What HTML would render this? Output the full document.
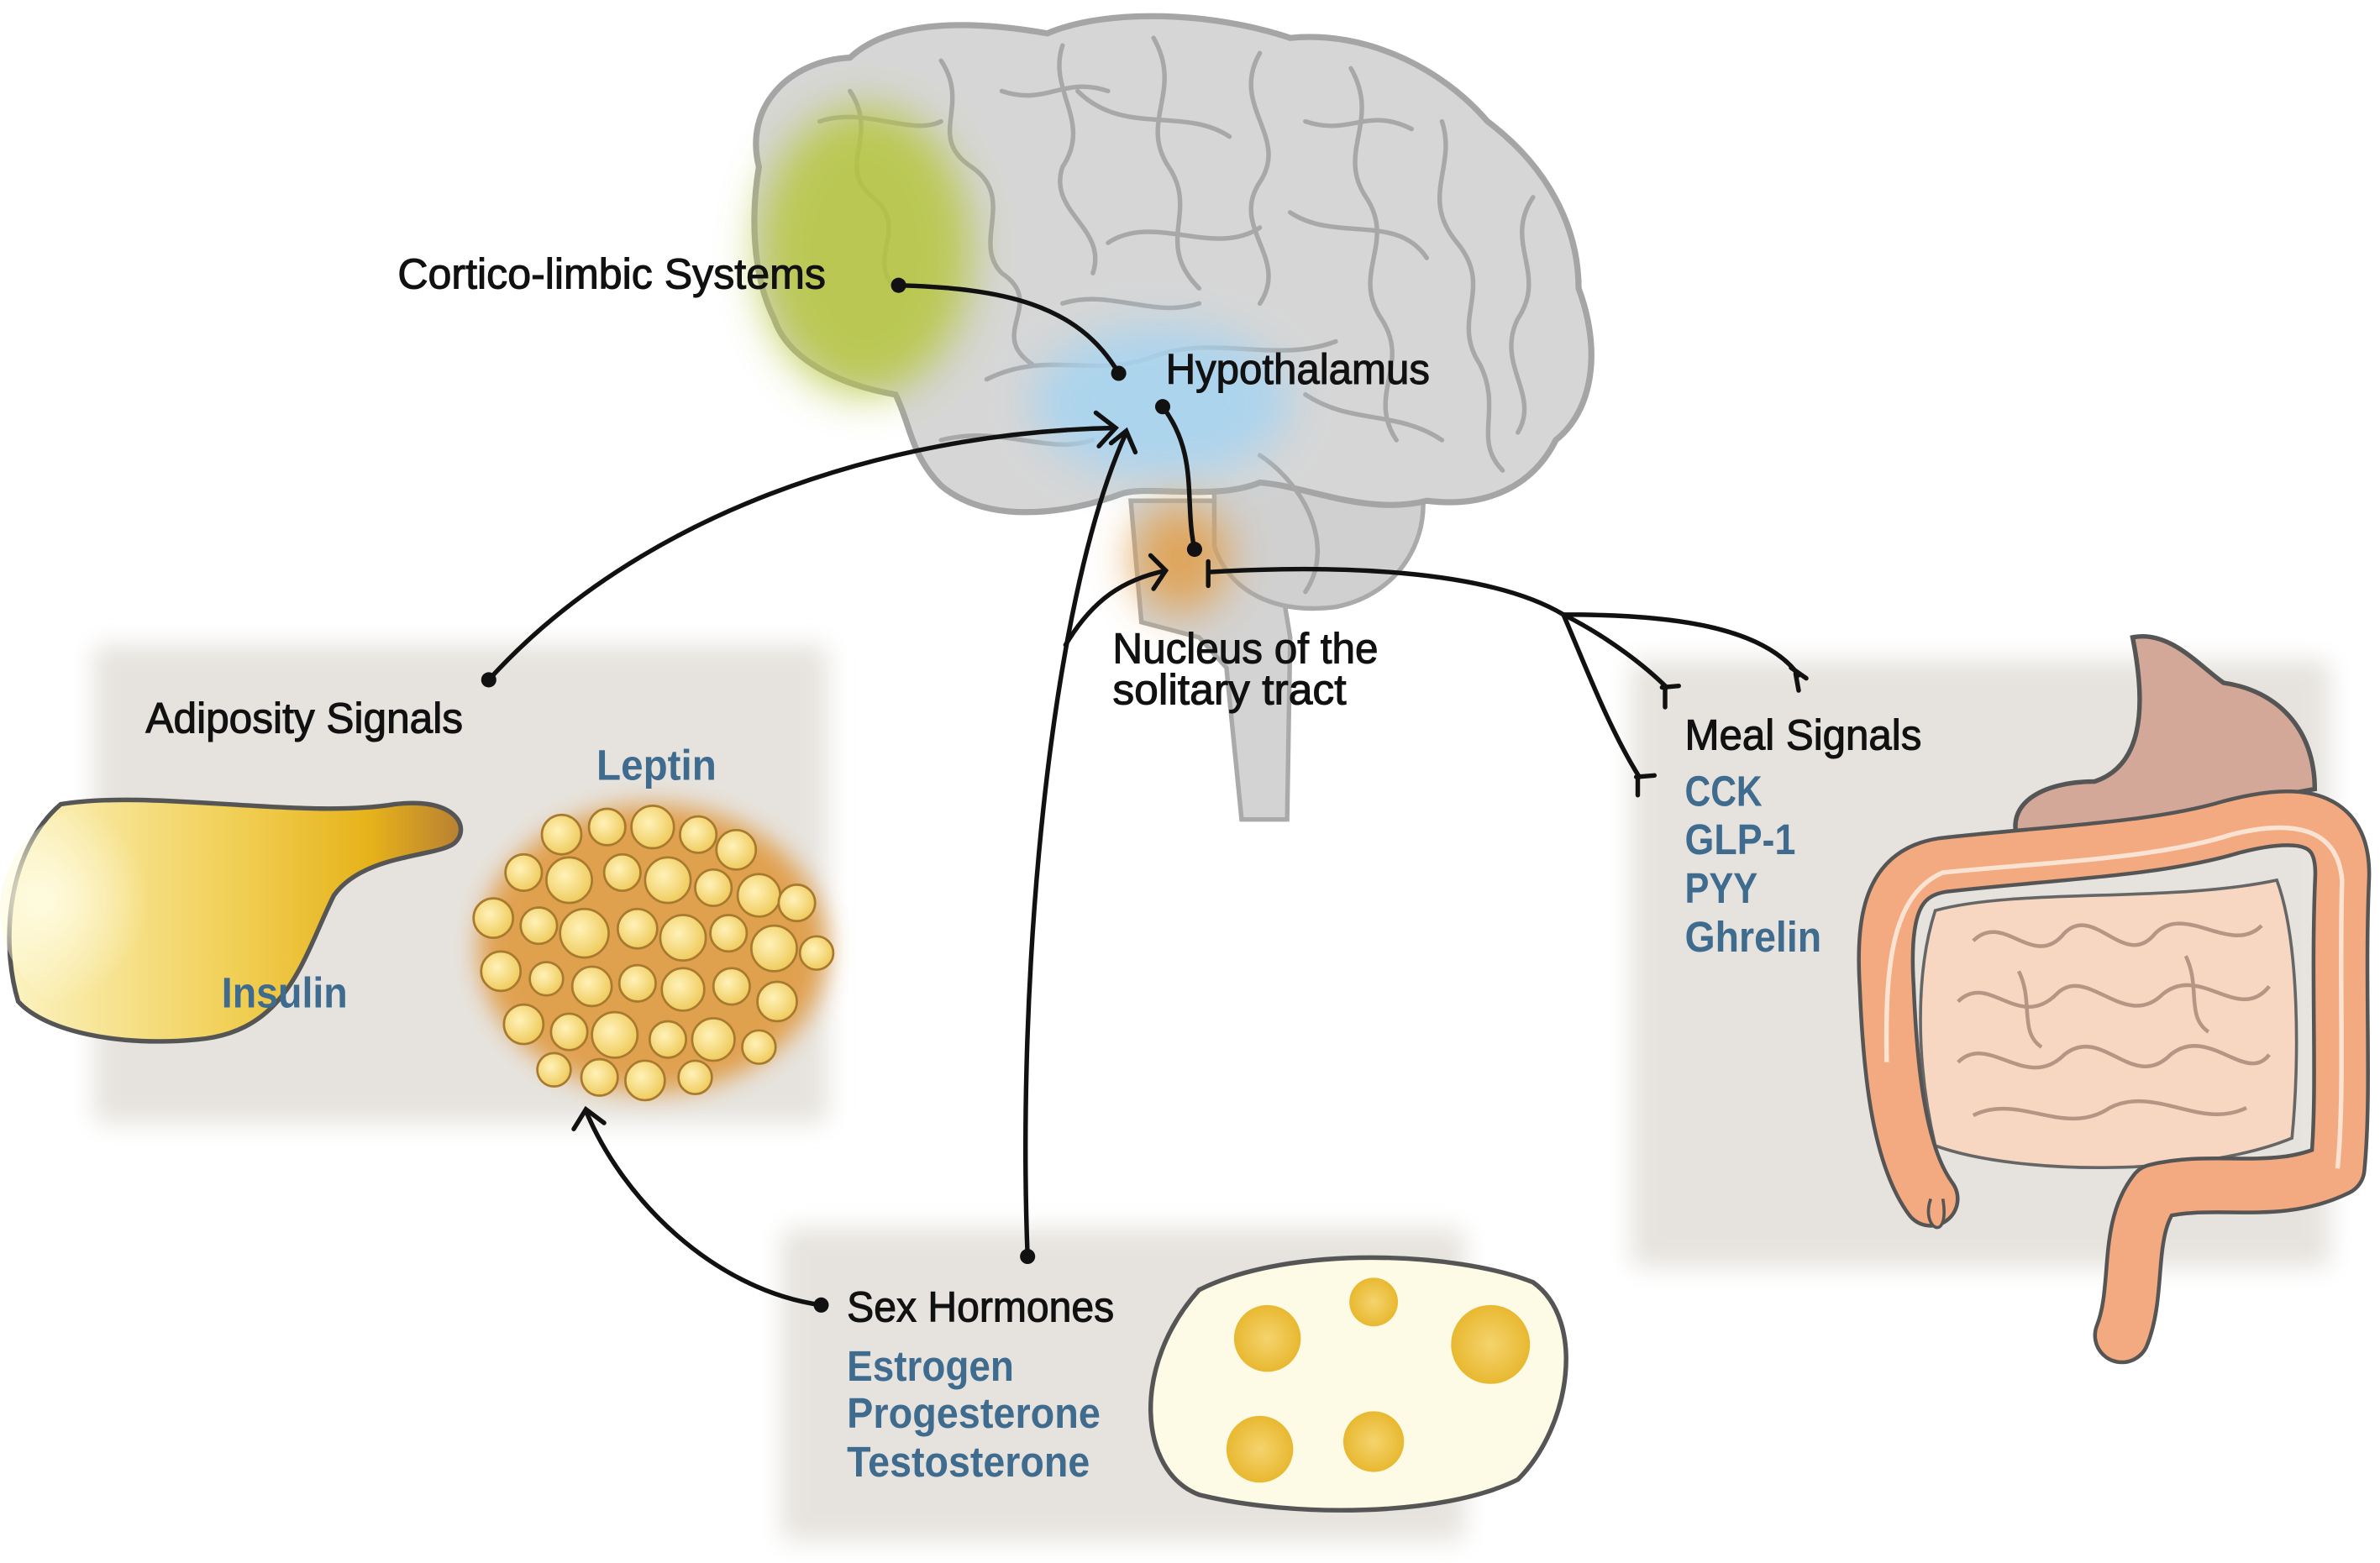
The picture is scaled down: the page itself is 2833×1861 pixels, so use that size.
<!DOCTYPE html>
<html><head><meta charset="utf-8"><style>
html,body{margin:0;padding:0;background:#fff;}
svg{display:block;}
text{font-family:"Liberation Sans Narrow","Liberation Sans",sans-serif;}
.k{fill:#111;font-size:28px;stroke:#111;stroke-width:0.6;}
.b{fill:#3e6b8e;font-size:28px;font-weight:bold;}
.ln{fill:none;stroke:#111;stroke-width:3;stroke-linecap:round;}
</style></head><body>
<svg width="2833" height="1861" viewBox="0 0 1568 1030" preserveAspectRatio="none" xmlns="http://www.w3.org/2000/svg">
<defs>
<filter id="bl" x="-20%" y="-20%" width="140%" height="140%"><feGaussianBlur stdDeviation="8"/></filter>
<filter id="bl2" x="-50%" y="-50%" width="200%" height="200%"><feGaussianBlur stdDeviation="14"/></filter>
<linearGradient id="pan" x1="0" x2="1" y1="0" y2="0">
<stop offset="0" stop-color="#fbf3c2"/><stop offset="0.5" stop-color="#f1cf55"/><stop offset="0.8" stop-color="#e6b21a"/><stop offset="1" stop-color="#b98032"/></linearGradient>
<radialGradient id="panr" cx="0.2" cy="0.45" r="0.5"><stop offset="0" stop-color="#fffbe0"/><stop offset="1" stop-color="#fffbe0" stop-opacity="0"/></radialGradient>
<radialGradient id="cell" cx="0.4" cy="0.4" r="0.6"><stop offset="0" stop-color="#fff2b8"/><stop offset="1" stop-color="#f0cc60"/></radialGradient>
<radialGradient id="ov" cx="0.5" cy="0.5" r="0.5"><stop offset="0" stop-color="#f5d46e"/><stop offset="1" stop-color="#e8b830"/></radialGradient>
</defs>
<rect x="62" y="425" width="483" height="315" rx="6" fill="#e6e3de" filter="url(#bl)"/>
<rect x="515" y="810" width="450" height="205" rx="6" fill="#e6e3de" filter="url(#bl)"/>
<rect x="1075" y="435" width="460" height="400" rx="6" fill="#e6e3de" filter="url(#bl)"/>
<path d="M745 330 L835 330 L850 420 L848 540 L818 540 L808 440 L790 420 L752 410 Z" fill="#d3d3d3" stroke="#aaa" stroke-width="3"/>
<path d="M800 290 C830 270 900 270 930 300 C950 340 930 390 880 400 C840 405 810 390 800 360 Z" fill="#d0d0d0" stroke="#aaa" stroke-width="3"/>
<path d="M500 110 C490 70 520 40 560 38 C590 10 650 15 690 22 C730 5 800 8 850 25 C900 20 950 45 980 80 C1020 110 1040 150 1040 190 C1055 230 1050 270 1025 290 C1010 320 980 335 940 330 C900 340 860 320 830 318 C800 330 760 320 740 325 C700 340 650 345 620 320 C600 300 600 280 590 260 C560 255 520 240 510 210 C495 180 495 140 500 110 Z" fill="#d6d6d6" stroke="#a5a5a5" stroke-width="4"/>
<g fill="none" stroke="#a8a8a8" stroke-width="3" stroke-linecap="round">
<path d="M560 60 C580 90 550 110 575 130 C600 150 570 170 590 190"/>
<path d="M620 40 C640 70 610 90 640 110 C670 130 640 160 660 180 C690 200 650 220 680 240"/>
<path d="M700 30 C690 60 720 80 700 110 C690 140 730 150 720 180"/>
<path d="M760 25 C780 60 750 80 770 110 C790 140 760 160 790 190"/>
<path d="M830 35 C810 70 850 90 830 120 C810 150 850 170 830 200"/>
<path d="M890 45 C910 80 880 100 900 130 C920 160 890 180 910 210 C930 240 900 260 920 290"/>
<path d="M950 80 C960 110 935 130 960 160 C985 190 955 210 975 240 C990 270 970 290 990 310"/>
<path d="M1010 130 C990 160 1020 180 1000 210 C985 240 1015 260 1000 285"/>
<path d="M650 250 C690 230 720 250 760 235 C800 220 840 240 880 225"/>
<path d="M620 290 C660 280 690 300 720 290"/>
<path d="M860 260 C890 280 920 270 950 290"/>
<path d="M710 60 C740 90 780 70 810 90"/>
<path d="M850 140 C880 160 920 140 940 170"/>
<path d="M730 160 C760 140 800 170 830 150"/>
<path d="M830 300 C860 320 880 360 860 390"/>
<path d="M540 80 C570 70 600 90 620 80"/>
<path d="M660 60 C690 70 700 50 730 60"/>
<path d="M860 80 C890 90 900 70 930 85"/>
<path d="M700 200 C730 190 760 210 790 200"/>
</g>
<ellipse cx="570" cy="165" rx="70" ry="95" fill="#b6c63e" opacity="0.85" filter="url(#bl2)"/>
<ellipse cx="765" cy="265" rx="85" ry="50" fill="#a8d4f0" opacity="0.9" filter="url(#bl2)"/>
<ellipse cx="778" cy="368" rx="32" ry="36" fill="#e0a050" opacity="0.9" filter="url(#bl2)"/>
<path d="M40 530 C100 520 200 540 260 530 C300 525 310 545 300 555 C290 565 240 562 220 590 C200 630 190 680 130 685 C80 690 30 680 12 660 C0 620 5 560 40 530 Z" fill="url(#pan)" stroke="#555" stroke-width="3"/>
<ellipse cx="70" cy="600" rx="70" ry="70" fill="url(#panr)"/>
<ellipse cx="430" cy="625" rx="115" ry="95" fill="#e09a40" opacity="0.9" filter="url(#bl)"/>
<g fill="url(#cell)" stroke="#a87a30" stroke-width="1.5">
<circle cx="370" cy="550" r="13"/><circle cx="400" cy="545" r="12"/><circle cx="430" cy="545" r="14"/><circle cx="460" cy="550" r="12"/><circle cx="485" cy="560" r="13"/>
<circle cx="345" cy="575" r="12"/><circle cx="375" cy="580" r="15"/><circle cx="410" cy="575" r="12"/><circle cx="440" cy="580" r="15"/><circle cx="470" cy="585" r="12"/><circle cx="500" cy="590" r="14"/><circle cx="525" cy="595" r="12"/>
<circle cx="325" cy="605" r="13"/><circle cx="355" cy="610" r="12"/><circle cx="385" cy="615" r="16"/><circle cx="420" cy="612" r="13"/><circle cx="450" cy="618" r="15"/><circle cx="480" cy="615" r="12"/><circle cx="510" cy="625" r="15"/><circle cx="538" cy="628" r="11"/>
<circle cx="330" cy="640" r="13"/><circle cx="360" cy="645" r="11"/><circle cx="390" cy="650" r="13"/><circle cx="420" cy="648" r="12"/><circle cx="450" cy="652" r="14"/><circle cx="482" cy="650" r="12"/><circle cx="512" cy="660" r="13"/>
<circle cx="345" cy="675" r="13"/><circle cx="375" cy="680" r="12"/><circle cx="405" cy="682" r="15"/><circle cx="440" cy="685" r="12"/><circle cx="470" cy="685" r="14"/><circle cx="500" cy="690" r="11"/>
<circle cx="365" cy="705" r="11"/><circle cx="395" cy="710" r="12"/><circle cx="425" cy="712" r="13"/><circle cx="458" cy="710" r="11"/>
</g>
<path d="M790 850 C850 820 960 825 1010 845 C1045 870 1035 940 1000 975 C950 1000 850 1000 790 985 C750 970 745 900 790 850 Z" fill="#fdfbe6" stroke="#555" stroke-width="3"/>
<g fill="url(#ov)"><circle cx="835" cy="882" r="22"/><circle cx="905" cy="858" r="16"/><circle cx="982" cy="886" r="26"/><circle cx="830" cy="955" r="22"/><circle cx="905" cy="950" r="20"/></g>
<path d="M1405 420 C1430 415 1450 440 1465 450 C1500 455 1525 480 1525 520 L1330 555 C1320 530 1345 515 1380 515 C1410 505 1415 470 1405 420 Z" fill="#d4a898" stroke="#555" stroke-width="3"/>
<path d="M1275 600 C1330 585 1430 595 1500 580 C1515 620 1515 700 1510 750 C1450 775 1330 775 1275 755 C1262 700 1262 640 1275 600 Z" fill="#f7d6c2" stroke="#666" stroke-width="2"/>
<g fill="none" stroke="#b89484" stroke-width="2.5">
<path d="M1300 620 C1320 600 1340 640 1360 615 C1380 595 1400 640 1420 615 C1440 595 1470 630 1490 610"/>
<path d="M1290 660 C1310 640 1330 680 1355 655 C1375 635 1400 680 1425 655 C1450 635 1475 675 1495 650"/>
<path d="M1290 700 C1310 680 1335 720 1360 695 C1385 675 1405 720 1430 695 C1455 675 1480 715 1495 695"/>
<path d="M1300 735 C1330 720 1360 750 1390 730 C1420 715 1450 745 1480 730"/>
<path d="M1330 640 C1340 660 1330 680 1345 690 M1440 630 C1450 650 1440 670 1455 680"/>
</g>
<path d="M1272 790 C1250 760 1245 700 1243 650 C1240 600 1248 575 1280 570 C1350 562 1420 560 1470 545 C1520 532 1545 540 1543 580 C1540 650 1545 720 1540 770 C1500 790 1460 775 1420 785 C1400 810 1410 850 1398 880" fill="none" stroke="#555" stroke-width="38" stroke-linecap="round" stroke-linejoin="round"/>
<path d="M1272 790 C1250 760 1245 700 1243 650 C1240 600 1248 575 1280 570 C1350 562 1420 560 1470 545 C1520 532 1545 540 1543 580 C1540 650 1545 720 1540 770 C1500 790 1460 775 1420 785 C1400 810 1410 850 1398 880" fill="none" stroke="#f4aa80" stroke-width="33" stroke-linecap="round" stroke-linejoin="round"/>
<path d="M1243 700 C1242 640 1245 590 1280 575 C1350 568 1420 566 1470 550 C1510 540 1540 545 1543 580 C1541 650 1545 720 1540 770" fill="none" stroke="#fbe3d3" stroke-width="3"/>
<path d="M1272 790 C1265 810 1285 820 1280 790" fill="#f4aa80" stroke="#555" stroke-width="2"/>
<path class="ln" d="M592 188 C660 190 710 200 737 246"/>
<circle cx="592" cy="188" r="5" fill="#111"/><circle cx="737" cy="246" r="5" fill="#111"/>
<path class="ln" d="M766 268 C790 300 780 330 787 362"/>
<circle cx="766" cy="268" r="5" fill="#111"/><circle cx="787" cy="362" r="5" fill="#111"/>
<path class="ln" d="M322 448 C420 340 580 285 735 282"/>
<path class="ln" d="M722 272 L735 282 L724 294"/>
<circle cx="322" cy="448" r="5" fill="#111"/>
<path class="ln" d="M677 828 C670 650 690 400 742 285"/>
<path class="ln" d="M732 292 L742 284 L748 298"/>
<path class="ln" d="M702 425 C720 395 740 382 768 376"/>
<path class="ln" d="M758 366 L768 376 L760 388"/>
<circle cx="677" cy="828" r="5" fill="#111"/>
<path class="ln" d="M541 860 C470 850 410 790 386 732"/>
<path class="ln" d="M378 744 L386 731 L398 740"/>
<circle cx="541" cy="860" r="5" fill="#111"/>
<path class="ln" d="M796 377 C880 372 980 375 1030 405 C1090 405 1160 410 1185 445"/>
<path class="ln" d="M1030 405 C1060 420 1085 440 1098 453"/>
<path class="ln" d="M1030 405 C1045 440 1060 480 1080 512"/>
<path class="ln" d="M796 370 L796 386 M1180 440 L1190 447 M1183 444 L1185 455 M1095 453 L1106 452 M1097 452 L1097 466 M1078 512 L1090 511 M1079 512 L1079 524"/>
<text class="k" x="262" y="190" textLength="282" lengthAdjust="spacingAndGlyphs">Cortico-limbic Systems</text>
<text class="k" x="768" y="253" textLength="174" lengthAdjust="spacingAndGlyphs">Hypothalamus</text>
<text class="k" x="733" y="437" textLength="175" lengthAdjust="spacingAndGlyphs">Nucleus of the</text>
<text class="k" x="733" y="464" textLength="154" lengthAdjust="spacingAndGlyphs">solitary tract</text>
<text class="k" x="96" y="483" textLength="209" lengthAdjust="spacingAndGlyphs">Adiposity Signals</text>
<text class="b" x="393" y="514" textLength="79" lengthAdjust="spacingAndGlyphs">Leptin</text>
<text class="b" x="146" y="664" textLength="83" lengthAdjust="spacingAndGlyphs">Insulin</text>
<text class="k" x="1110" y="494" textLength="156" lengthAdjust="spacingAndGlyphs">Meal Signals</text>
<text class="b" x="1110" y="531" textLength="51" lengthAdjust="spacingAndGlyphs">CCK</text>
<text class="b" x="1110" y="563" textLength="73" lengthAdjust="spacingAndGlyphs">GLP-1</text>
<text class="b" x="1110" y="595" textLength="48" lengthAdjust="spacingAndGlyphs">PYY</text>
<text class="b" x="1110" y="627" textLength="90" lengthAdjust="spacingAndGlyphs">Ghrelin</text>
<text class="k" x="558" y="871" textLength="176" lengthAdjust="spacingAndGlyphs">Sex Hormones</text>
<text class="b" x="558" y="910" textLength="110" lengthAdjust="spacingAndGlyphs">Estrogen</text>
<text class="b" x="558" y="941" textLength="167" lengthAdjust="spacingAndGlyphs">Progesterone</text>
<text class="b" x="558" y="973" textLength="160" lengthAdjust="spacingAndGlyphs">Testosterone</text>
</svg>
</body></html>
